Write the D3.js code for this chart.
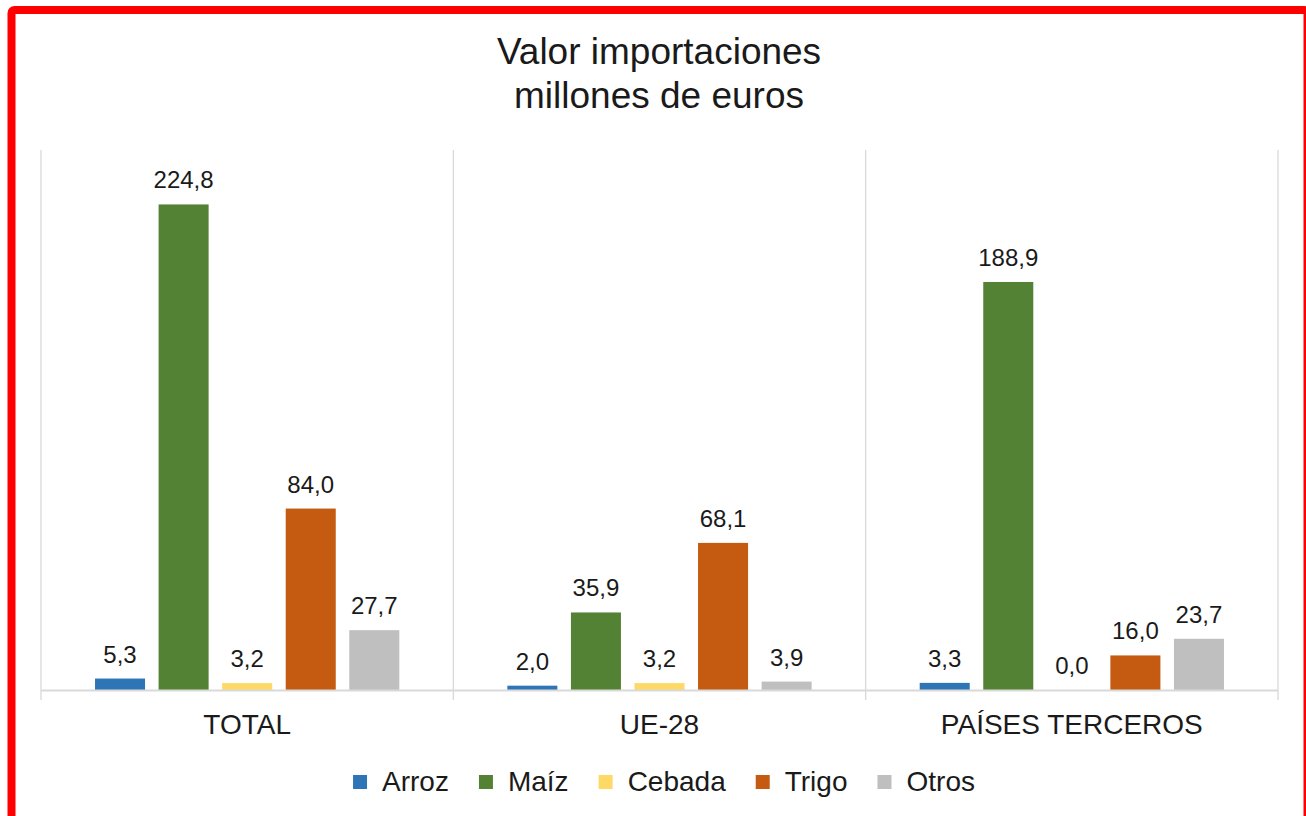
<!DOCTYPE html>
<html>
<head>
<meta charset="utf-8">
<script src="https://cdn.jsdelivr.net/npm/d3@7"></script>
<style>
  html, body { margin: 0; padding: 0; background: #fff; }
  svg { display: block; }
  text { font-family: "Liberation Sans", Arial, sans-serif; fill: #1a1a1a; }
</style>
</head>
<body>
<svg id="chart" width="1306" height="816"></svg>
<script>
// Import values, millions of euros
const categories = ["TOTAL", "UE-28", "PAÍSES TERCEROS"];
const seriesNames = ["Arroz", "Maíz", "Cebada", "Trigo", "Otros"];
const arroz  = [5.3, 2.0, 3.3];
const maiz   = [224.8, 35.9, 188.9];
const cebada = [3.2, 3.2, 0.0];
const trigo  = [84.0, 68.1, 16.0];
const otros  = [27.7, 3.9, 23.7];
const seriesColors = ["#2E75B6", "#548235", "#FFD966", "#C55A11", "#BFBFBF"];
const titleLines = ["Valor importaciones", "millones de euros"];

const seriesValues = [arroz, maiz, cebada, trigo, otros];
const rows = categories.map((c, i) => ({
  category: c,
  values: seriesNames.map((s, j) => ({ series: s, value: seriesValues[j][i], color: seriesColors[j] }))
}));

const svg = d3.select("#chart");

// Frame
svg.append("rect")
  .attr("x", 11.5).attr("y", 10)
  .attr("width", 1296).attr("height", 830)
  .attr("rx", 3)
  .attr("fill", "none")
  .attr("stroke", "#FF0000")
  .attr("stroke-width", 8);

// Title
svg.append("text")
  .attr("x", 659).attr("text-anchor", "middle")
  .style("font-size", "37px")
  .selectAll("tspan").data(titleLines).join("tspan")
  .attr("x", 659)
  .attr("y", (d, i) => 64 + i * 44)
  .text(d => d);

const plot = { left: 41, right: 1278, top: 150, bottom: 690 };

const x0 = d3.scaleBand().domain(categories).range([plot.left, plot.right]).padding(0);
const x1 = d3.scaleBand().domain(seriesNames).range([0, x0.bandwidth()])
  .paddingInner(0.213).paddingOuter(0.85);
const y = d3.scaleLinear().domain([0, 250]).range([plot.bottom, plot.top]);

// Vertical category separators
const seps = categories.map(c => x0(c)).concat([plot.right]);
svg.append("g").selectAll("line").data(seps).join("line")
  .attr("x1", d => d).attr("x2", d => d)
  .attr("y1", plot.top).attr("y2", plot.bottom + 10)
  .attr("stroke", "#D9D9D9").attr("stroke-width", 1.3);

// Bars
const groups = svg.append("g").selectAll("g").data(rows).join("g")
  .attr("transform", d => `translate(${x0(d.category)},0)`);

groups.selectAll("rect").data(d => d.values).join("rect")
  .attr("x", d => x1(d.series))
  .attr("y", d => y(d.value))
  .attr("width", x1.bandwidth())
  .attr("height", d => y(0) - y(d.value))
  .attr("fill", d => d.color);

// Value labels
const fmt = v => d3.format(".1f")(v).replace(".", ",");
groups.selectAll("text").data(d => d.values).join("text")
  .attr("x", d => x1(d.series) + x1.bandwidth() / 2)
  .attr("y", d => y(d.value) - 16)
  .attr("text-anchor", "middle")
  .style("font-size", "24px")
  .text(d => fmt(d.value));

// Baseline
svg.append("line")
  .attr("x1", plot.left).attr("x2", plot.right)
  .attr("y1", plot.bottom + 0.5).attr("y2", plot.bottom + 0.5)
  .attr("stroke", "#D9D9D9").attr("stroke-width", 2);

// Category axis labels
const xAxis = d3.axisBottom(x0).tickSize(0).tickPadding(0);
const ax = svg.append("g").attr("transform", `translate(0,${plot.bottom})`).call(xAxis);
ax.select(".domain").remove();
ax.selectAll("text")
  .attr("y", 44).attr("dy", null)
  .style("font-size", "28px")
  .style("font-family", "'Liberation Sans', Arial, sans-serif")
  .attr("fill", "#1a1a1a");

// Legend
const legend = svg.append("g");
const items = legend.selectAll("g").data(seriesNames).join("g");
items.append("rect")
  .attr("y", 775).attr("width", 14).attr("height", 14)
  .attr("fill", (d, i) => seriesColors[i]);
items.append("text")
  .attr("x", 29).attr("y", 791)
  .style("font-size", "28px")
  .text(d => d);
let cx = 0;
const offsets = [];
items.each(function () {
  offsets.push(cx);
  const w = d3.select(this).select("text").node().getComputedTextLength();
  cx += 29 + w + 30;
});
const totalW = cx - 30;
const startX = 664 - totalW / 2;
items.attr("transform", (d, i) => `translate(${startX + offsets[i]},0)`);
</script>
</body>
</html>
